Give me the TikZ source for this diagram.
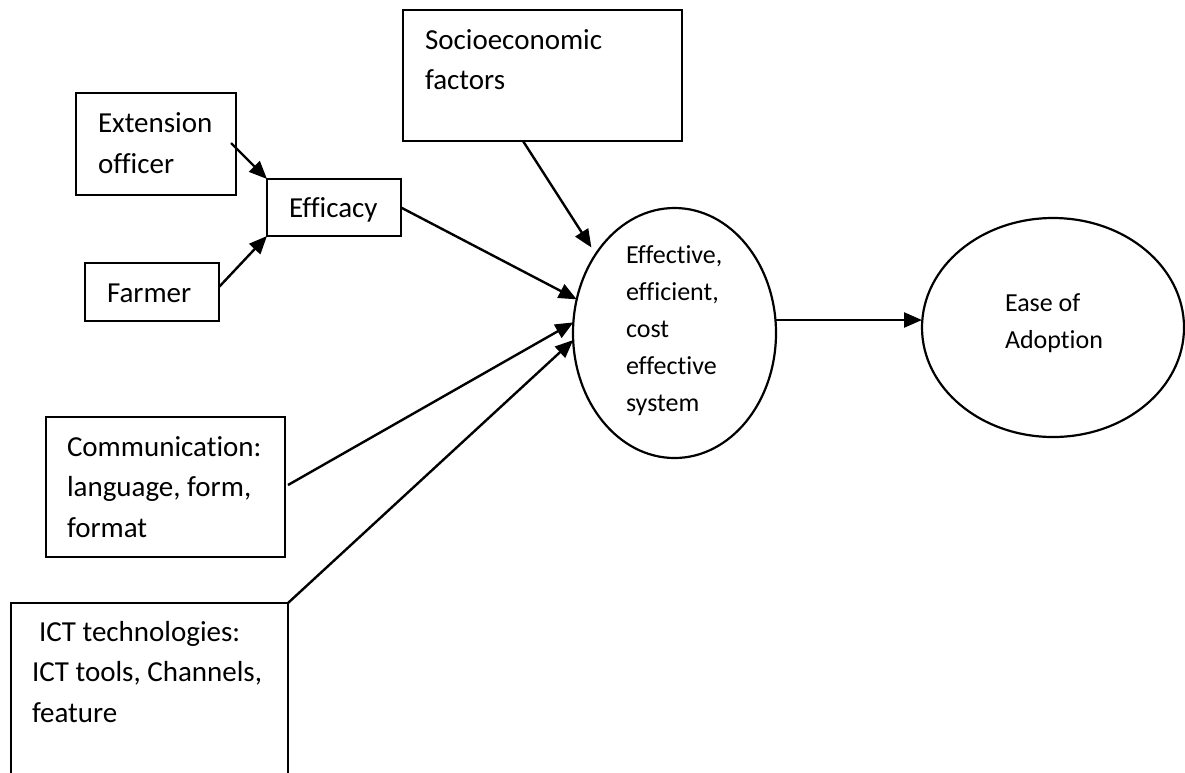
\documentclass[tikz,border=0pt]{standalone}
\usepackage{fontspec}
\setmainfont{Carlito}[Ligatures=NoCommon]
\usetikzlibrary{arrows.meta,shapes.geometric}
\begin{document}
\begin{tikzpicture}[x=1pt,y=-1pt,
  box/.style={draw, line width=2.2pt, rectangle, inner sep=0pt, outer sep=0pt, anchor=north west},
  oval/.style={draw, line width=2.2pt, ellipse, inner sep=0pt, outer sep=0pt},
  lbl/.style={anchor=base west, inner sep=0pt, outer sep=0pt},
  arr/.style={line width=2.4pt, -{Triangle[length=18pt,width=15pt]}},
  bigtxt/.style={font=\fontsize{29}{40.7}\selectfont},
  smalltxt/.style={font=\fontsize{26}{37.2}\selectfont}]

\clip (0,0) rectangle (1185,772);

% input boxes
\node[box, minimum width=160pt, minimum height=102pt] (ext) at (76,93) {};
\node[box, minimum width=134pt, minimum height=57pt] (eff) at (267,179) {};
\node[box, minimum width=134pt, minimum height=58pt] (farm) at (85,263) {};
\node[box, minimum width=279pt, minimum height=131pt] (socio) at (403,10) {};
\node[box, minimum width=239pt, minimum height=140pt] (comm) at (46,417) {};
\node[box, minimum width=277pt, minimum height=200pt] (ict) at (11,603) {};

% outcome ellipses
\node[oval, minimum width=203pt, minimum height=250pt] (sys) at (674.5,333) {};
\node[oval, minimum width=262pt, minimum height=219pt] (ease) at (1053,327.5) {};

% labels
\node[lbl, bigtxt] (extT) at (98,132.7) {\begin{tabular}[t]{@{}l@{}}Extension\\officer\end{tabular}};
\node[lbl, bigtxt] (effT) at (289,217) {Efficacy};
\node[lbl, bigtxt] (farmT) at (107,302) {Farmer};
\node[lbl, bigtxt] (socioT) at (425,49) {\begin{tabular}[t]{@{}l@{}}Socioeconomic\\factors\end{tabular}};
\node[lbl, bigtxt] (commT) at (67,456) {\begin{tabular}[t]{@{}l@{}}Communication:\\language, form,\\format\end{tabular}};
\node[lbl, bigtxt] (ictT) at (32,641) {\begin{tabular}[t]{@{}l@{}}\hspace*{7pt}ICT technologies:\\ICT tools, Channels,\\feature\end{tabular}};
\node[lbl, smalltxt] (sysT) at (626,263) {\begin{tabular}[t]{@{}l@{}}Effective,\\efficient,\\cost\\effective\\system\end{tabular}};
\node[lbl, smalltxt] (easeT) at (1005,311) {\begin{tabular}[t]{@{}l@{}}Ease of\\Adoption\end{tabular}};

% connectors
\draw[arr] ([xshift=-5pt,yshift=1pt]ext.east) -- (eff.north west);
\draw[arr] ([yshift=5pt]farm.east) -- (eff.south west);
\draw[arr] (eff.east) -- (sys.161);
\draw[arr, shorten >=8pt] ([xshift=-19.5pt]socio.south) -- (sys.135);
\draw[arr] ([xshift=3pt,yshift=2pt]comm.east) -- (sys.174);
\draw[arr] (ict.north east) -- (sys.184);
\draw[arr] ([yshift=13pt]sys.east) -- ([yshift=7.5pt]ease.west);

\end{tikzpicture}
\end{document}
